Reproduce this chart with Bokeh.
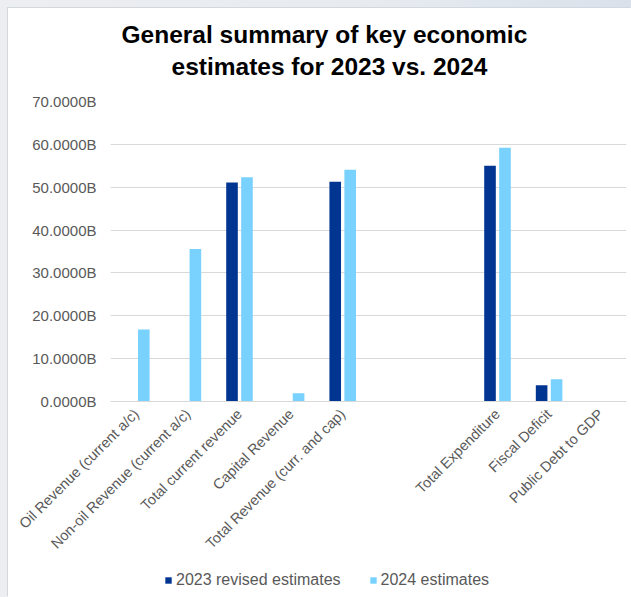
import numpy as np
from bokeh.plotting import figure
from bokeh.models import (ColumnDataSource, FactorRange, Range1d, FixedTicker,
                          PrintfTickFormatter, Legend, LegendItem, Title)
from bokeh.transform import dodge
from bokeh.layouts import column
from bokeh.embed import file_html
from bokeh.resources import INLINE

# ---- data (values in billions) ----
categories = ["Oil Revenue (current a/c)", "Non-oil Revenue (current a/c)",
              "Total current revenue", "Capital Revenue",
              "Total Revenue (curr. and cap)", " ", "  ",
              "Total Expenditure", "Fiscal Deficit", "Public Debt to GDP"]
est_2023 = [np.nan, np.nan, 51.1, np.nan, 51.3, np.nan, np.nan, 55.0, 3.8, np.nan]
est_2024 = [16.8, 35.6, 52.3, 1.9, 54.1, np.nan, np.nan, 59.2, 5.2, np.nan]
series_names = ["2023 revised estimates", "2024 estimates"]
y_ticks = [0, 10, 20, 30, 40, 50, 60, 70]

DARK = "#003591"
LIGHT = "#79D1FE"
FONT = "Liberation Sans"
GREY_TXT = "#595959"

src = ColumnDataSource(dict(cat=categories,
                            v23=np.array(est_2023, dtype=float),
                            v24=np.array(est_2024, dtype=float)))

p = figure(width=623, height=552, x_range=FactorRange(*categories, range_padding=0),
           y_range=Range1d(0, 70), output_backend="svg", toolbar_location=None,
           tools="", min_border_top=93, min_border_bottom=158,
           min_border_left=102, min_border_right=5)
p.outline_line_color = None
p.background_fill_color = "white"
p.border_fill_color = "white"

p.vbar(x=dodge("cat", -0.145, range=p.x_range), top="v23", width=0.225,
       source=src, fill_color=DARK, line_color=None)
p.vbar(x=dodge("cat", 0.145, range=p.x_range), top="v24", width=0.225,
       source=src, fill_color=LIGHT, line_color=None)

# titles: spacer nearest the plot, then line 2, then line 1
spacer = Title(text=" ", text_font=FONT, text_font_size="10px", standoff=9,
               text_line_height=1.0)
t2 = Title(text="estimates for 2023 vs. 2024", align="left", offset=61,
           text_font=FONT, text_font_size="24.5px", text_font_style="bold",
           text_color="black", standoff=0, text_line_height=1.0)
t1 = Title(text="General summary of key economic", align="left", offset=11,
           text_font=FONT, text_font_size="24.5px", text_font_style="bold",
           text_color="black", standoff=5, text_line_height=1.0)
p.add_layout(spacer, "above")
p.add_layout(t2, "above")
p.add_layout(t1, "above")

# axes
p.yaxis.ticker = FixedTicker(ticks=y_ticks)
p.yaxis.formatter = PrintfTickFormatter(format="%.4fB")
p.yaxis.axis_line_color = None
p.yaxis.major_tick_line_color = None
p.yaxis.minor_tick_line_color = None
p.yaxis.major_label_standoff = 8
p.yaxis.major_label_text_font = FONT
p.yaxis.major_label_text_font_size = "15px"
p.yaxis.major_label_text_color = GREY_TXT

p.xaxis.axis_line_color = "#d9d9d9"
p.xaxis.major_tick_line_color = None
p.xaxis.minor_tick_line_color = None
p.xaxis.major_label_orientation = np.pi / 4
p.xaxis.major_label_standoff = 4
p.xaxis.major_label_text_font = FONT
p.xaxis.major_label_text_font_size = "14.5px"
p.xaxis.major_label_text_color = GREY_TXT

p.xgrid.grid_line_color = None
p.ygrid.grid_line_color = "#d9d9d9"
p.ygrid.grid_line_width = 1

# legend strip below the chart
lf = figure(width=623, height=37, x_range=Range1d(0, 1), y_range=Range1d(0, 1),
            x_axis_type=None, y_axis_type=None, output_backend="svg",
            toolbar_location=None, tools="", min_border=0)
lf.outline_line_color = None
lf.background_fill_color = "white"
lf.border_fill_color = "white"
lf.xgrid.grid_line_color = None
lf.ygrid.grid_line_color = None
d1 = lf.vbar(x=[0.5], top=[np.nan], width=0.1, fill_color=DARK, line_color=None)
d2 = lf.vbar(x=[0.5], top=[np.nan], width=0.1, fill_color=LIGHT, line_color=None)

legend = Legend(items=[LegendItem(label=series_names[0], renderers=[d1]),
                       LegendItem(label=series_names[1], renderers=[d2])],
                orientation="horizontal", location=(54, 8),
                glyph_width=8, glyph_height=8, label_standoff=4, spacing=28,
                padding=0, margin=0, border_line_color=None,
                background_fill_alpha=0,
                label_text_font=FONT, label_text_font_size="16px",
                label_text_color=GREY_TXT)
lf.add_layout(legend, "center")

inner = column(p, lf, width=623, height=589, spacing=0,
               styles={"background": "white", "box-shadow": "-1px -1px 0 #d3d8df"})
inner.margin = (8, 0, 0, 8)
page = column(inner, width=631, height=597,
              styles={"background": "linear-gradient(90deg, #eceef1 0%, #e7ebf0 60%, #d9e1eb 100%)"})

open("out.html", "w").write(file_html(page, INLINE))
